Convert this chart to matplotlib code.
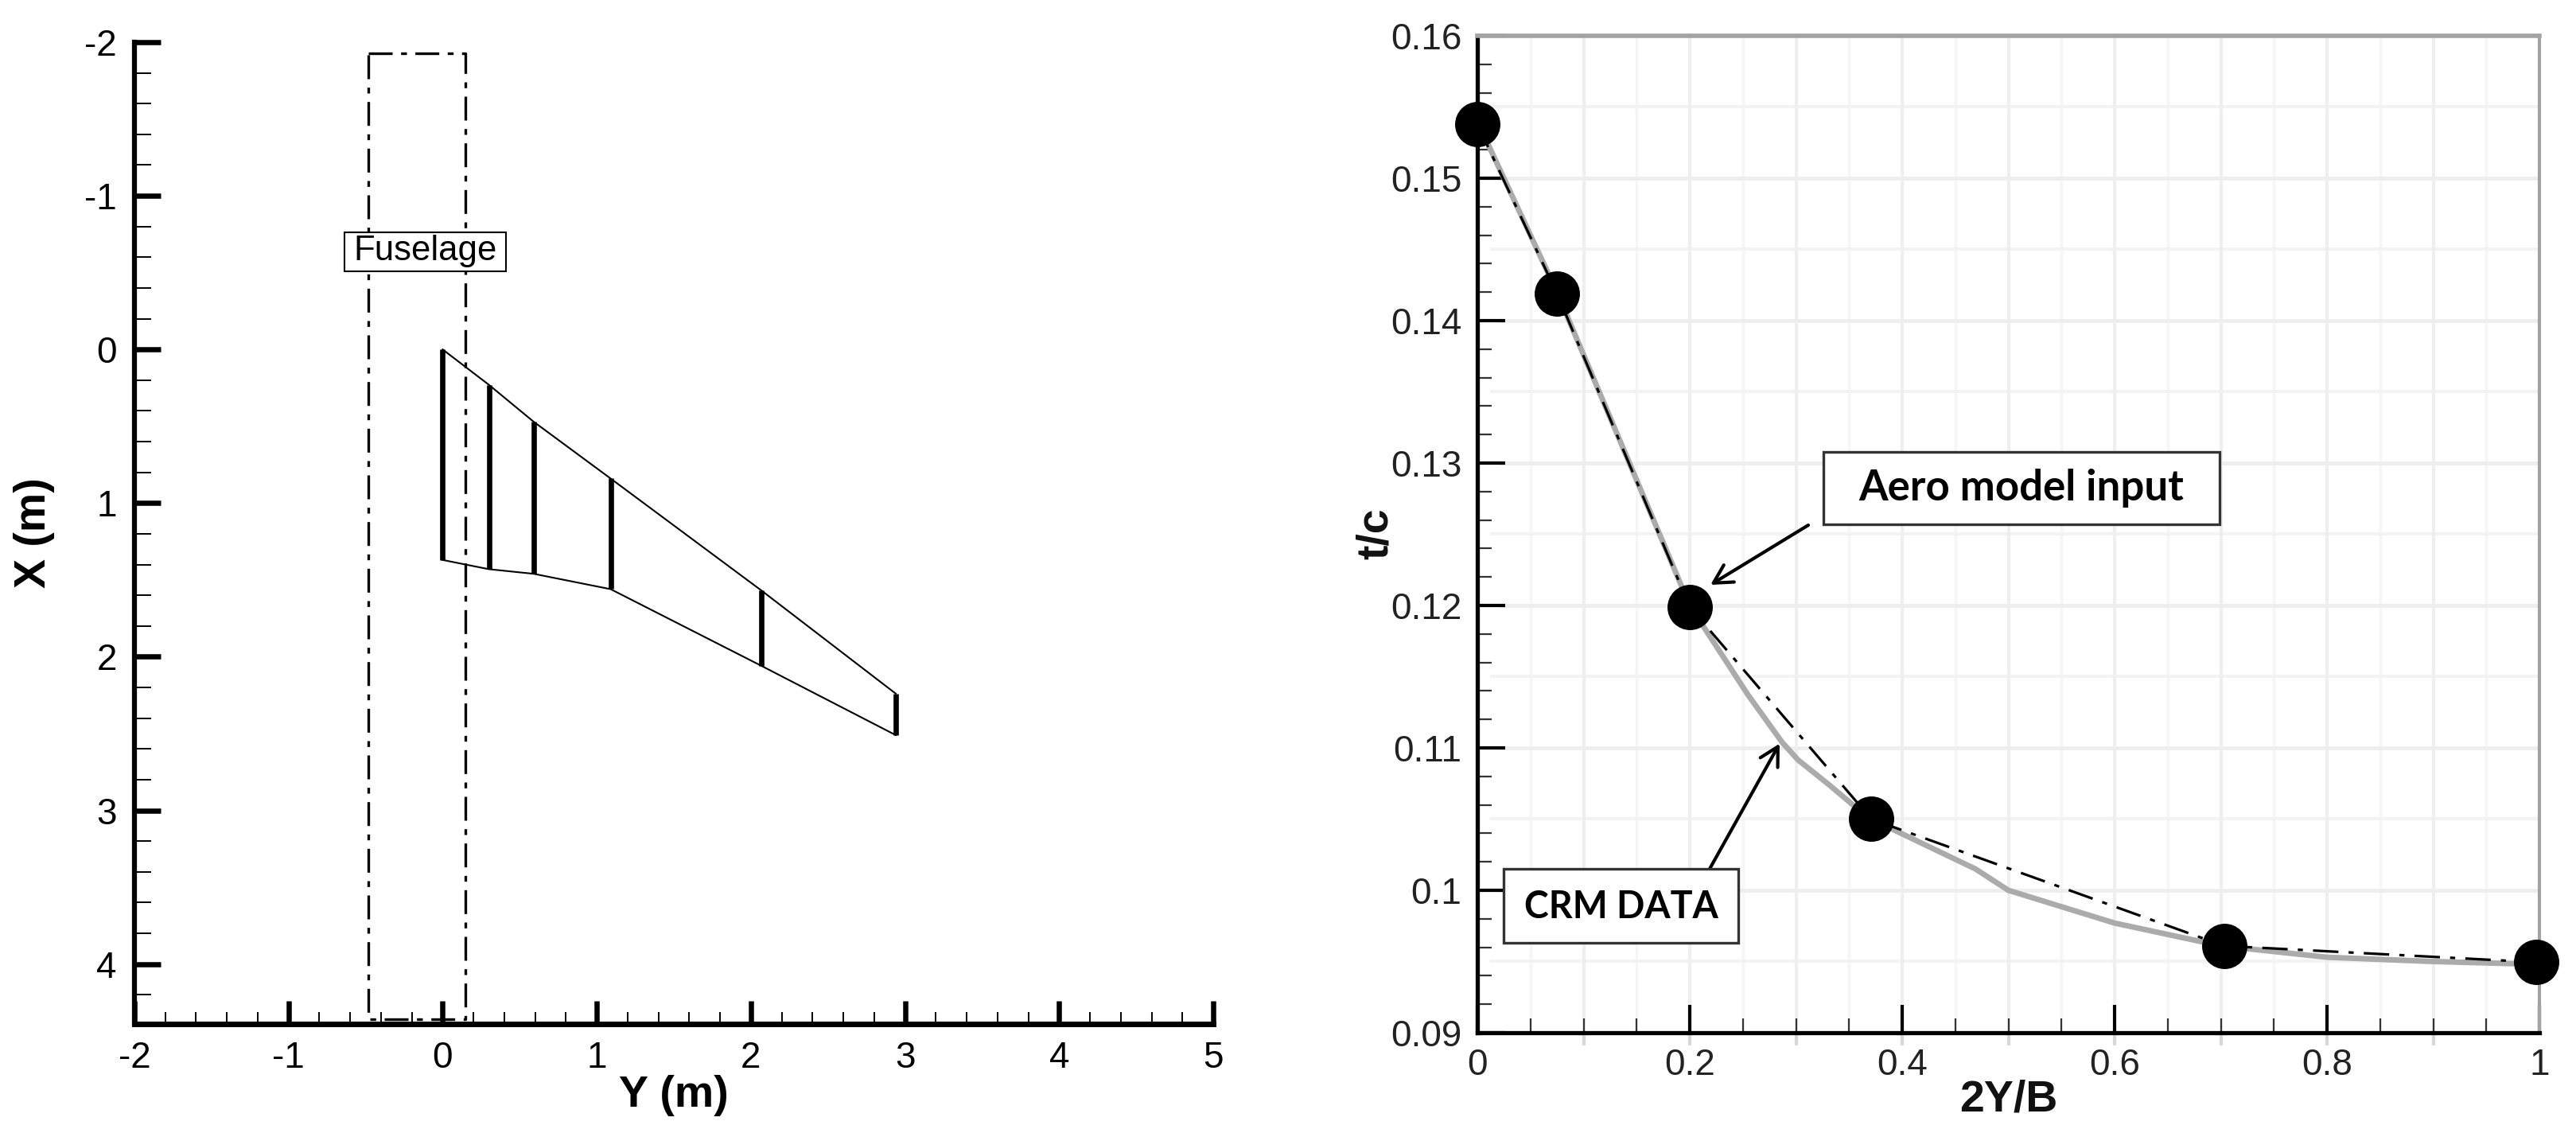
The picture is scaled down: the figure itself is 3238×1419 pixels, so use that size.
import matplotlib
matplotlib.use('Agg')
import matplotlib.pyplot as plt
from matplotlib.patches import Rectangle
from matplotlib.ticker import FixedLocator

plt.rcParams['font.family'] = ['Liberation Sans', 'DejaVu Sans']

W, H = 3238, 1419

# left panel: wing planform
spar_y = [0, 0.30, 0.59, 1.09, 2.07, 2.94]
spar_le = [0, 0.23, 0.47, 0.84, 1.57, 2.24]
spar_te = [1.37, 1.43, 1.46, 1.56, 2.06, 2.51]
fuse_y = [-0.48, 0.145, 0.145, -0.48, -0.48]
fuse_x = [-1.93, -1.93, 4.36, 4.36, -1.93]
left_xticks = [-2, -1, 0, 1, 2, 3, 4, 5]
left_yticks = [-2, -1, 0, 1, 2, 3, 4]
left_xlabels = ['-2', '-1', '0', '1', '2', '3', '4', '5']
left_ylabels = ['-2', '-1', '0', '1', '2', '3', '4']
left_xminor = [-1.8, -1.6, -1.4, -1.2, -0.8, -0.6, -0.4, -0.2, 0.2, 0.4, 0.6, 0.8,
               1.2, 1.4, 1.6, 1.8, 2.2, 2.4, 2.6, 2.8, 3.2, 3.4, 3.6, 3.8,
               4.2, 4.4, 4.6, 4.8]
left_yminor = [-1.8, -1.6, -1.4, -1.2, -0.8, -0.6, -0.4, -0.2, 0.2, 0.4, 0.6, 0.8,
               1.2, 1.4, 1.6, 1.8, 2.2, 2.4, 2.6, 2.8, 3.2, 3.4, 3.6, 3.8, 4.2]

# right panel: t/c distribution
crm_span = [0, 0.075, 0.2, 0.2547, 0.2869, 0.3019, 0.3318, 0.352, 0.371, 0.469, 0.5, 0.6, 0.7, 0.8, 0.9, 1.0]
crm_tc = [0.154, 0.142, 0.12, 0.11374, 0.1104, 0.10916, 0.10737, 0.1061, 0.105, 0.1015, 0.1, 0.0977, 0.0961,
          0.0953, 0.095, 0.0948]
input_span = [0, 0.075, 0.2, 0.371, 0.703, 0.997]
input_tc = [0.1538, 0.1419, 0.1199, 0.105, 0.0961, 0.09495]
right_xticks = [0, 0.2, 0.4, 0.6, 0.8, 1.0]
right_xlabels = ['0', '0.2', '0.4', '0.6', '0.8', '1']
right_yticks = [0.09, 0.10, 0.11, 0.12, 0.13, 0.14, 0.15, 0.16]
right_ylabels = ['0.09', '0.1', '0.11', '0.12', '0.13', '0.14', '0.15', '0.16']
right_xminor = [0.05, 0.1, 0.15, 0.25, 0.3, 0.35, 0.45, 0.5, 0.55, 0.65, 0.7, 0.75, 0.85, 0.9, 0.95]
right_yminor = [0.092, 0.094, 0.096, 0.098, 0.102, 0.104, 0.106, 0.108, 0.112, 0.114, 0.116, 0.118,
                0.122, 0.124, 0.126, 0.128, 0.132, 0.134, 0.136, 0.138, 0.142, 0.144, 0.146, 0.148,
                0.152, 0.154, 0.156, 0.158]
grid_x_major = [0.1, 0.2, 0.3, 0.4, 0.5, 0.6, 0.7, 0.8, 0.9]
grid_x_minor = [0.05, 0.15, 0.25, 0.35, 0.45, 0.55, 0.65, 0.75, 0.85, 0.95]
grid_y_major = [0.10, 0.11, 0.12, 0.13, 0.14, 0.15]
grid_y_minor = [0.095, 0.105, 0.115, 0.125, 0.135, 0.145, 0.155]


def axes_px(fig, x0, x1, top, bottom):
    return fig.add_axes([x0 / W, 1 - bottom / H, (x1 - x0) / W, (bottom - top) / H])


def main():
    fig = plt.figure(figsize=(W / 100, H / 100), dpi=100)

    # wing planform
    ax = axes_px(fig, 169, 1525, 53, 1287)
    ax.set_xlim(-2, 5)
    ax.set_ylim(4.39, -2)
    ax.plot(fuse_y, fuse_x, color='black', lw=2.4, ls=(0, (9, 3.2, 2.2, 3.2)), clip_on=False)
    ax.plot(spar_y, spar_le, color='black', lw=1.5)
    ax.plot(spar_y, spar_te, color='black', lw=1.5)
    ax.vlines(spar_y, spar_le, spar_te, color='black', lw=4.8)
    ax.add_patch(Rectangle((-0.635, -0.762), 1.048, 0.254, fc='white', ec='black', lw=1.5, zorder=4))
    ax.text(-0.111, -0.64, 'Fuselage', ha='center', va='center', fontsize=31.5, zorder=5)

    ax.spines['top'].set_visible(False)
    ax.spines['right'].set_visible(False)
    ax.spines['left'].set_linewidth(4.5)
    ax.spines['bottom'].set_linewidth(5)
    ax.xaxis.set_major_locator(FixedLocator(left_xticks))
    ax.yaxis.set_major_locator(FixedLocator(left_yticks))
    ax.xaxis.set_minor_locator(FixedLocator(left_xminor))
    ax.yaxis.set_minor_locator(FixedLocator(left_yminor))
    ax.set_xticklabels(left_xlabels)
    ax.set_yticklabels(left_ylabels)
    ax.tick_params(axis='x', which='major', direction='in', length=21, width=4.7, labelsize=33, pad=15)
    ax.tick_params(axis='y', which='major', direction='in', length=24, width=4.7, labelsize=33, pad=16)
    ax.tick_params(axis='x', which='minor', direction='in', length=11, width=1.4)
    ax.tick_params(axis='y', which='minor', direction='in', length=15, width=1.4)
    fig.text(847 / W, 1 - 1377 / H, 'Y (m)', ha='center', va='center', fontsize=40, fontweight='bold')
    fig.text(43 / W, 1 - 670 / H, 'X (m)', ha='center', va='center', rotation=90, fontsize=40, fontweight='bold')

    # thickness distribution
    ax2 = axes_px(fig, 1857, 3192, 45, 1298)
    ax2.set_xlim(0, 1)
    ax2.set_ylim(0.09, 0.16)
    ax2.vlines(grid_x_minor, 0.09, 0.16, color='#f6f6f6', lw=2.5, zorder=0)
    ax2.hlines(grid_y_minor, 0.012, 1, color='#f3f3f3', lw=3, zorder=0)
    ax2.vlines(grid_x_major, 0.09, 0.16, color='#efefef', lw=3, zorder=0.5)
    ax2.hlines(grid_y_major, 0.02, 1, color='#eeeeee', lw=3.5, zorder=0.5)
    ax2.vlines(grid_x_major, 0.0891, 0.09, color='#d8d8d8', lw=3, zorder=0.5, clip_on=False)

    ax2.plot(crm_span, crm_tc, color='#ababab', lw=5, zorder=2)
    ax2.plot(input_span, input_tc, color='black', lw=2.3, ls=(0, (10, 4, 2, 4)), zorder=3)
    ax2.plot(input_span, input_tc, ls='none', marker='o', ms=41, color='black', mew=0, zorder=6, clip_on=False)

    # callouts
    ax2.annotate('', xy=(0.2195, 0.12145), xytext=(0.3116, 0.12564), zorder=4,
                 arrowprops=dict(arrowstyle='->,head_length=0.55,head_width=0.3', color='black', lw=3,
                                 mutation_scale=30, shrinkA=0, shrinkB=0))
    ax2.annotate('', xy=(0.2846, 0.1103), xytext=(0.2187, 0.1015), zorder=4,
                 arrowprops=dict(arrowstyle='->,head_length=0.55,head_width=0.3', color='black', lw=3,
                                 mutation_scale=30, shrinkA=0, shrinkB=0))
    ax2.add_patch(Rectangle((0.3258, 0.1257), 0.3732, 0.0051, fc='white', ec='#333333', lw=2.4, zorder=5))
    ax2.text(0.5124, 0.12825, 'Aero model input', ha='center', va='center', family='Lato',
             fontweight='bold', fontsize=38, zorder=7)
    ax2.add_patch(Rectangle((0.0247, 0.0963), 0.221, 0.0052, fc='white', ec='#333333', lw=2.4, zorder=5))
    ax2.text(0.1352, 0.0988, 'CRM DATA', ha='center', va='center', family='Lato',
             fontweight='bold', fontsize=33.5, zorder=7)

    ax2.spines['left'].set_linewidth(3.8)
    ax2.spines['bottom'].set_linewidth(3.8)
    ax2.spines['top'].set_linewidth(4)
    ax2.spines['right'].set_linewidth(3)
    ax2.spines['top'].set_color('#a3a3a3')
    ax2.spines['right'].set_color('#a3a3a3')
    ax2.xaxis.set_major_locator(FixedLocator(right_xticks))
    ax2.yaxis.set_major_locator(FixedLocator(right_yticks))
    ax2.xaxis.set_minor_locator(FixedLocator(right_xminor))
    ax2.yaxis.set_minor_locator(FixedLocator(right_yminor))
    ax2.set_xticklabels(right_xlabels)
    ax2.set_yticklabels(right_ylabels)
    ax2.tick_params(axis='both', which='major', direction='in', length=25, width=3, labelsize=33,
                    labelcolor='#222222', pad=14)
    ax2.tick_params(axis='both', which='minor', direction='in', length=13, width=1.6, color='#333333')
    fig.text(2525 / W, 1 - 1383 / H, '2Y/B', ha='center', va='center', fontsize=40, fontweight='bold', color='#111111')
    fig.text(1730 / W, 1 - 671 / H, 't/c', ha='center', va='center', rotation=90, fontsize=40, fontweight='bold', color='#111111')

    fig.savefig('out.png', dpi=100, facecolor='white')


if __name__ == '__main__':
    main()
